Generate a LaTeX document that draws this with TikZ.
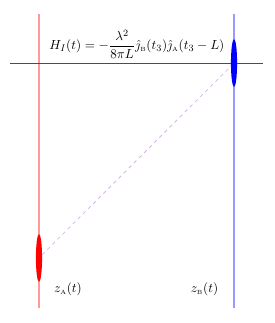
\documentclass[tikz,border=0pt]{standalone}
\usepackage{xcolor}
\usepackage{tikz}
\usepackage{amsmath}
\usepackage{amssymb}
\usetikzlibrary{arrows.meta, positioning, shapes.geometric, calc}
\definecolor{lineA}{HTML}{FF9999}
\definecolor{lineB}{HTML}{9999FF}
\definecolor{rayviolet}{HTML}{D8B4E4}
\tikzset{
    worldline/.style={line width=1pt},
    event/.style={ellipse, inner sep=0pt, minimum width=0.18cm, minimum height=1.4cm},
    eqlabel/.style={anchor=base, font=\fontsize{10.9}{13}\selectfont},
}

\begin{document}
\begin{tikzpicture}
    \useasboundingbox (0,0) rectangle (8.025,9.46);

    \draw[worldline, lineA] (1.142,0.44) -- (1.142,9.05);
    \draw[worldline, lineB] (6.854,0.44) -- (6.854,9.05);
    \draw[black!70, line width=0.6pt] (0.293,7.615) -- (7.70,7.615);

    \node[eqlabel] (ham) at (4.01,8.0)
        {$H_I(t) = -\dfrac{\lambda^2}{8\pi L}\hat{\jmath}_{\text{\tiny B}}(t_3)\hat{\jmath}_{\text{\tiny A}}(t_3 - L)$};

    \node[event, fill=red] (evA) at (1.142,1.904) {};
    \node[event, fill=blue] (evB) at (6.854,7.615) {};

    \draw[rayviolet, dashed, line width=0.6pt] (evA) -- (evB);

    \node[eqlabel] (labA) at (1.99,0.88) {$z_{\text{\tiny A}}(t)$};
    \node[eqlabel] (labB) at (5.99,0.88) {$z_{\text{\tiny B}}(t)$};
\end{tikzpicture}
\end{document}
